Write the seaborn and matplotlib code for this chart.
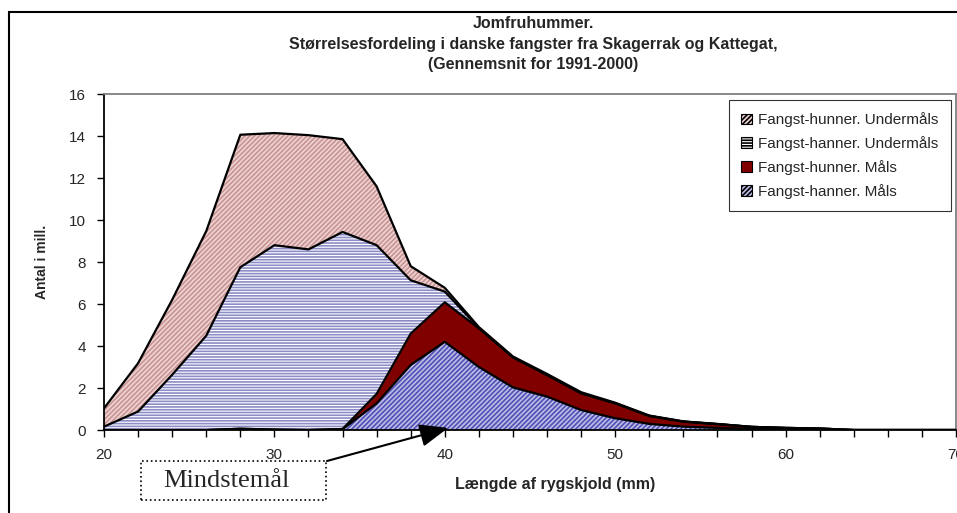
import numpy as np
import pandas as pd
import matplotlib.pyplot as plt
import matplotlib.patches as mpatches
import seaborn as sns

# Length classes (mm) and catch numbers (mill.)
lengths = list(range(20, 71, 2))
hanner_maals = [0, 0, 0, 0, 0.06, 0.02, 0, 0.04, 1.27, 3.1, 4.2, 3.0, 2.03, 1.59, 0.95,
                0.56, 0.29, 0.16, 0.1, 0.05, 0.03, 0.02, 0, 0, 0, 0]
hunner_maals = [0, 0, 0, 0, 0, 0, 0, 0.01, 0.45, 1.49, 1.88, 1.84, 1.43, 1.03, 0.8,
                0.71, 0.38, 0.24, 0.18, 0.1, 0.07, 0.05, 0, 0, 0, 0]
hanner_under = [0.16, 0.88, 2.63, 4.49, 7.69, 8.78, 8.6, 9.38, 7.08, 2.54, 0.51, 0.02, 0,
                0, 0, 0, 0, 0, 0, 0, 0, 0, 0, 0, 0, 0]
hunner_under = [0.87, 2.3, 3.57, 4.98, 6.31, 5.34, 5.44, 4.42, 2.8, 0.67, 0.18, 0.04, 0.04,
                0.05, 0.05, 0.03, 0.02, 0.01, 0.01, 0, 0, 0, 0, 0, 0, 0]

series_names = ["Fangst-hanner. Måls", "Fangst-hunner. Måls",
                "Fangst-hanner. Undermåls", "Fangst-hunner. Undermåls"]

title_lines = ["Jomfruhummer.",
               "Størrelsesfordeling i danske fangster fra Skagerrak og Kattegat,",
               "(Gennemsnit for 1991-2000)"]

sns.set_style("white")
plt.rcParams["font.family"] = ["Liberation Sans", "DejaVu Sans"]
plt.rcParams["hatch.linewidth"] = 1.2

W, H = 957, 513
fig = plt.figure(figsize=(W / 100, H / 100), dpi=100)
ax = fig.add_axes([104 / W, 1 - 430 / H, (956 - 104) / W, (430 - 94) / H])

df = pd.DataFrame({"length": lengths})
stack = np.zeros(len(lengths))
styles = [
    dict(facecolor="#bcbce8", edgecolor="#5050b4", hatch="///////"),
    dict(facecolor="#800000", edgecolor="#800000", hatch=None),
    dict(facecolor="white", edgecolor="#8c8cc8", hatch="------"),
    dict(facecolor="#efd2d2", edgecolor="#c89494", hatch="///////"),
]
handles = []
for name, vals, st in zip(series_names, [hanner_maals, hunner_maals, hanner_under, hunner_under], styles):
    lower = stack.copy()
    stack = stack + np.array(vals)
    df[name] = stack
    ax.fill_between(lengths, lower, stack, facecolor=st["facecolor"], edgecolor=st["edgecolor"],
                    hatch=st["hatch"], linewidth=0, zorder=2)
    handles.append(mpatches.Patch(facecolor=st["facecolor"], edgecolor="black",
                                  hatch=st["hatch"], linewidth=0.8))

# black outlines on every layer boundary
for name in series_names:
    sns.lineplot(data=df, x="length", y=name, color="black", linewidth=1.6, ax=ax, zorder=3)

ax.set_xlim(20, 70)
ax.set_ylim(0, 16)
ax.set_xticks(lengths)
ax.set_xticklabels([str(v) if v % 10 == 0 else "" for v in lengths])
ax.set_yticks(range(0, 17, 2))
ax.tick_params(axis="both", direction="out", length=5, width=1, color="black",
               labelsize=11, pad=8, bottom=True, left=True)
ax.set_xlabel("")
ax.set_ylabel("")

for side in ["left", "bottom"]:
    ax.spines[side].set_color("black")
    ax.spines[side].set_linewidth(1.3)
for side in ["top", "right"]:
    ax.spines[side].set_color("#808080")
    ax.spines[side].set_linewidth(1.3)

leg = ax.legend(handles[::-1], series_names[::-1], loc="upper right",
                bbox_to_anchor=(0.994, 0.982), borderaxespad=0, fontsize=11,
                frameon=True, fancybox=False, handlelength=0.7, handleheight=0.7,
                handletextpad=0.4, labelspacing=0.58, borderpad=0.8)
leg.get_frame().set_edgecolor("black")
leg.get_frame().set_linewidth(0.8)

# titles and axis labels
for y, line in zip([24, 44, 64], title_lines):
    fig.text(533 / W, 1 - y / H, line, ha="center", va="center", fontsize=11.5, fontweight="bold")
fig.text(555 / W, 1 - 485 / H, "Længde af rygskjold (mm)", ha="center", va="center",
         fontsize=11.5, fontweight="bold")
fig.text(42 / W, 1 - 262 / H, "Antal i mill.", ha="center", va="center", rotation=90,
         fontsize=10, fontweight="bold")

# Mindstemål box and arrow
fig.patches.append(mpatches.Rectangle((141 / W, 1 - 500 / H), 185 / W, 39 / H,
                                      transform=fig.transFigure, facecolor="white",
                                      edgecolor="black", linestyle=":", linewidth=1.2))
fig.text(226 / W, 1 - 481 / H, "Mindstemål", ha="center", va="center", fontsize=19,
         family=["Liberation Serif", "DejaVu Serif"])
ax.annotate("", xy=(40.2, 0.1), xycoords="data", xytext=(327, H - 461), textcoords="figure pixels",
            arrowprops=dict(arrowstyle="-|>,head_length=0.8,head_width=0.32", color="black",
                            linewidth=1.5, mutation_scale=22, shrinkA=0, shrinkB=0),
            annotation_clip=False, zorder=6)

# outer chart border
fig.patches.append(mpatches.Rectangle((9 / W, -0.05), 1.2, 1.05 - 12 / H, transform=fig.transFigure,
                                      facecolor="none", edgecolor="black", linewidth=1.5))

fig.savefig("out.png", dpi=100)
